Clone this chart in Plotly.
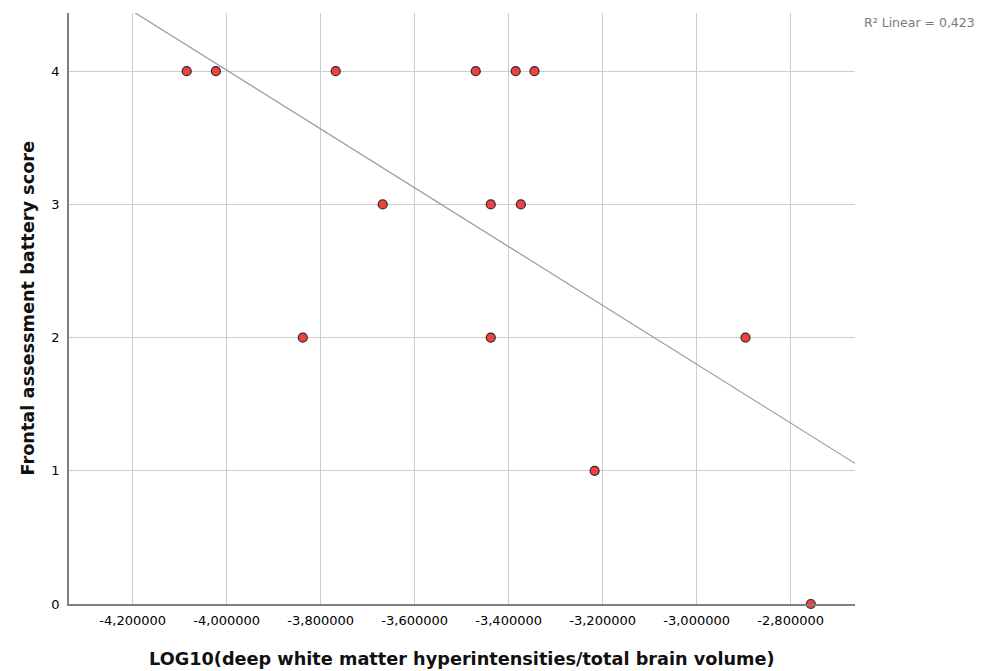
import numpy as np
import plotly.graph_objects as go

# Data
log_dwmh = [-4.085, -4.023, -3.768, -3.470, -3.385, -3.345,
            -3.668, -3.438, -3.374,
            -3.838, -3.438, -2.896,
            -3.217, -2.757]
fab_score = [4, 4, 4, 4, 4, 4,
             3, 3, 3,
             2, 2, 2,
             1, 0]

x_ticks = [-4.2, -4.0, -3.8, -3.6, -3.4, -3.2, -3.0, -2.8]
y_ticks = [0, 1, 2, 3, 4]
x_range = [-4.3355, -2.663]
y_range = [0, 4.437]

x_tick_text = [f"{v:.6f}".replace(".", ",") for v in x_ticks]

slope, intercept = np.polyfit(log_dwmh, fab_score, 1)
pred = np.polyval([slope, intercept], log_dwmh)
ss_res = np.sum((np.array(fab_score) - pred) ** 2)
ss_tot = np.sum((np.array(fab_score) - np.mean(fab_score)) ** 2)
r2 = 1 - ss_res / ss_tot

line_x = np.array(x_range)
line_y = slope * line_x + intercept

FONT = "DejaVu Sans"

fig = go.Figure()
fig.add_trace(go.Scatter(
    x=line_x, y=line_y, mode="lines",
    line=dict(color="#9a9a9a", width=1.2),
    hoverinfo="skip", showlegend=False,
))
fig.add_trace(go.Scatter(
    x=log_dwmh, y=fab_score, mode="markers",
    marker=dict(size=9, color="#F0403F", line=dict(color="#2a2a2a", width=1.2)),
    showlegend=False, cliponaxis=False,
))

# R² label
fig.add_annotation(
    x=1.0, xref="paper", xanchor="left", xshift=7,
    y=1.0, yref="paper", yanchor="middle", yshift=-9,
    text=f"R² Linear = {r2:.3f}".replace(".", ","),
    showarrow=False,
    font=dict(family=FONT, size=12.5, color="#7a7a7a"),
)
# X axis title
fig.add_annotation(
    x=0.5, xref="paper", xanchor="center",
    y=0, yref="paper", yanchor="middle", yshift=-55,
    text="<b>LOG10(deep white matter hyperintensities/total brain volume)</b>",
    showarrow=False,
    font=dict(family=FONT, size=17.7, color="#111111"),
)
# Y axis title
fig.add_annotation(
    x=0, xref="paper", xanchor="center", xshift=-42,
    y=0.5, yref="paper", yanchor="middle",
    text="<b>Frontal assessment battery score</b>",
    textangle=-90, showarrow=False,
    font=dict(family=FONT, size=17.7, color="#111111"),
)

fig.update_layout(
    width=987, height=671,
    margin=dict(l=69, r=132, t=13, b=67),
    paper_bgcolor="white", plot_bgcolor="white",
    font=dict(family=FONT, size=13, color="#000000"),
)
fig.update_xaxes(
    range=x_range, tickvals=x_ticks, ticktext=x_tick_text,
    showgrid=True, gridcolor="#cccccc", gridwidth=1,
    showline=True, linecolor="#808080", linewidth=1.5,
    zeroline=False, ticks="outside", ticklen=4, tickcolor="rgba(0,0,0,0)",
    tickfont=dict(family=FONT, size=13, color="#000"),
)
fig.update_yaxes(
    range=y_range, tickvals=y_ticks,
    showgrid=True, gridcolor="#cccccc", gridwidth=1,
    showline=True, linecolor="#808080", linewidth=1.5,
    zeroline=False, ticks="outside", ticklen=5, tickcolor="rgba(0,0,0,0)",
    tickfont=dict(family=FONT, size=13, color="#000"),
)

fig.write_html("out.html",
               config={"displayModeBar": False},
               post_script="document.body.style.margin='0';document.body.style.overflow='hidden';")
